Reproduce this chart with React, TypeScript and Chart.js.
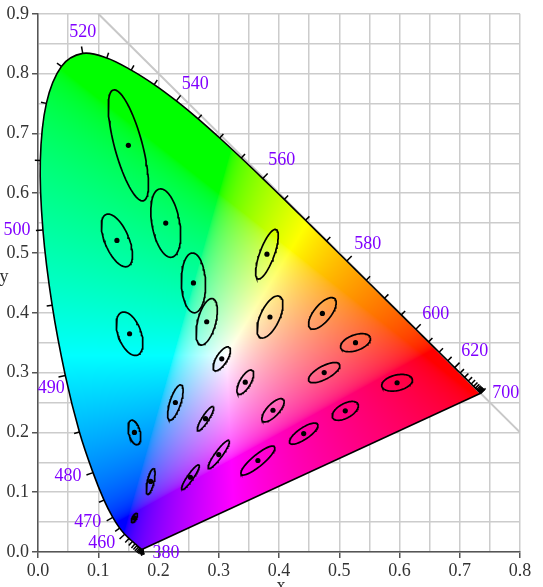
import React, { useEffect, useRef } from 'react';
import { Chart, registerables } from 'chart.js';

Chart.register(...registerables);

// ---- Spectral locus (CIE 1931 2°) ----
const wavelengths = [380,385,390,395,400,405,410,415,420,425,430,435,440,445,450,455,460,465,470,475,480,485,490,495,500,505,510,515,520,525,530,535,540,545,550,555,560,565,570,575,580,585,590,595,600,605,610,615,620,625,630,635,640,645,650,655,660,665,670,675,680,685,690,695,700];
const locusX = [0.17411,0.17401,0.17380,0.17356,0.17334,0.17302,0.17258,0.17209,0.17141,0.17030,0.16888,0.16690,0.16441,0.16110,0.15664,0.15099,0.14396,0.13550,0.12412,0.10959,0.09129,0.06871,0.04539,0.02346,0.00817,0.00386,0.01387,0.03885,0.07430,0.11416,0.15472,0.19288,0.22962,0.26578,0.30160,0.33736,0.37310,0.40874,0.44406,0.47877,0.51249,0.54479,0.57515,0.60293,0.62704,0.64823,0.66576,0.68008,0.69150,0.70061,0.70792,0.71403,0.71903,0.72303,0.72599,0.72827,0.72997,0.73109,0.73199,0.73272,0.73342,0.73405,0.73439,0.73459,0.73469];
const locusY = [0.00496,0.00498,0.00492,0.00492,0.00480,0.00478,0.00480,0.00483,0.00510,0.00579,0.00690,0.00856,0.01086,0.01379,0.01771,0.02274,0.02970,0.03988,0.05780,0.08684,0.13270,0.20072,0.29498,0.41270,0.53842,0.65482,0.75019,0.81202,0.83380,0.82621,0.80586,0.78163,0.75433,0.72432,0.69231,0.65885,0.62445,0.58961,0.55471,0.52020,0.48659,0.45443,0.42423,0.39650,0.37249,0.35139,0.33401,0.31975,0.30834,0.29930,0.29203,0.28593,0.28093,0.27695,0.27401,0.27173,0.27003,0.26891,0.26801,0.26728,0.26658,0.26595,0.26561,0.26541,0.26531];
const labeledWavelengths = [380,460,470,480,490,500,520,540,560,580,600,620,700];

// ---- MacAdam ellipses (semi-axes in units of 1e-3, shown enlarged 10x) ----
const ellipseX = [0.160,0.187,0.253,0.150,0.131,0.212,0.258,0.152,0.280,0.380,0.160,0.228,0.305,0.385,0.472,0.527,0.475,0.510,0.596,0.344,0.390,0.441,0.278,0.300,0.365];
const ellipseY = [0.057,0.118,0.125,0.680,0.521,0.550,0.450,0.365,0.385,0.498,0.200,0.250,0.323,0.393,0.399,0.350,0.300,0.236,0.283,0.284,0.237,0.198,0.223,0.163,0.153];
const ellipseA = [0.85,2.2,2.5,9.6,4.7,5.8,5.0,3.8,4.0,4.4,2.1,3.1,2.3,3.8,3.2,2.6,2.9,2.4,2.6,2.3,2.5,2.8,2.4,2.9,3.6];
const ellipseB = [0.35,0.55,0.50,2.3,2.0,2.3,2.0,1.9,1.5,1.2,0.95,0.9,0.9,1.6,1.4,1.3,1.1,1.2,1.3,0.9,1.0,0.95,0.55,0.6,0.95];
const ellipseTheta = [62.5,77,55.5,105,112.5,100,92,110,75.5,70,104,72,58,65.5,51,20,28.5,29.5,13,60,47,34.5,57.5,54,40];
const ellipseEnlarge = 10;

// ---- Axes ----
const xMin = 0, xMax = 0.8, yMin = 0, yMax = 0.9;
const gridStep = 0.05;
const diagonal = [{ x: 0.1, y: 0.9 }, { x: 0.8, y: 0.2 }];

const FONT = '"Liberation Serif", "Times New Roman", serif';
const LABEL_COLOR = '#8000ff';

// label placement offsets (px) relative to the locus point
const LABEL_OFFSETS: Record<number, [number, number]> = {
  380: [23, 4], 460: [-23, 9], 470: [-25, 5], 480: [-25, 4], 490: [-14, 13],
  500: [-26, 0], 520: [0, -21], 540: [19, -17], 560: [19, -18], 580: [21, -17],
  600: [20, -15], 620: [20, -16], 700: [25, 0],
};

function ellipsePoints(i: number) {
  const pts: { x: number; y: number }[] = [];
  const A = ellipseA[i] * 1e-3 * ellipseEnlarge;
  const B = ellipseB[i] * 1e-3 * ellipseEnlarge;
  const th = (ellipseTheta[i] * Math.PI) / 180;
  const c = Math.cos(th), s = Math.sin(th);
  const n = 72;
  for (let k = 0; k <= n; k++) {
    const t = (2 * Math.PI * k) / n;
    pts.push({
      x: ellipseX[i] + A * c * Math.cos(t) - B * s * Math.sin(t),
      y: ellipseY[i] + A * s * Math.cos(t) + B * c * Math.sin(t),
    });
  }
  return pts;
}

function gammaEnc(v: number) {
  return v <= 0.0031308 ? 12.92 * v : 1.055 * Math.pow(v, 1 / 2.4) - 0.055;
}

function xyToRgb(x: number, y: number): [number, number, number] {
  const yy = Math.max(y, 1e-4);
  const X = x / yy, Y = 1, Z = (1 - x - y) / yy;
  let r = 3.2406 * X - 1.5372 * Y - 0.4986 * Z;
  let g = -0.9689 * X + 1.8758 * Y + 0.0415 * Z;
  let b = 0.0557 * X - 0.204 * Y + 1.057 * Z;
  r = Math.max(0, r); g = Math.max(0, g); b = Math.max(0, b);
  const m = Math.max(r, g, b, 1e-9);
  r /= m; g /= m; b /= m;
  return [gammaEnc(r) * 255, gammaEnc(g) * 255, gammaEnc(b) * 255];
}

const gamutPlugin = {
  id: 'gamutFill',
  beforeDatasetsDraw(chart: any) {
    const { ctx, chartArea } = chart;
    const xs = chart.scales.x, ys = chart.scales.y;
    const left = Math.floor(chartArea.left), top = Math.floor(chartArea.top);
    const w = Math.ceil(chartArea.right) - left, h = Math.ceil(chartArea.bottom) - top;
    const off = document.createElement('canvas');
    off.width = w; off.height = h;
    const octx = off.getContext('2d')!;
    const img = octx.createImageData(w, h);
    const d = img.data;
    for (let j = 0; j < h; j++) {
      const yv = ys.getValueForPixel(top + j + 0.5);
      for (let i = 0; i < w; i++) {
        const xv = xs.getValueForPixel(left + i + 0.5);
        const [r, g, b] = xyToRgb(xv, yv);
        const o = (j * w + i) * 4;
        d[o] = r; d[o + 1] = g; d[o + 2] = b; d[o + 3] = 255;
      }
    }
    octx.putImageData(img, 0, 0);
    const meta = chart.getDatasetMeta(0);
    const line = meta.dataset;
    ctx.save();
    ctx.beginPath();
    if (line && typeof line.path === 'function') {
      if (typeof line.updateControlPoints === 'function') line.updateControlPoints(chartArea, 'x');
      line.path(ctx);
    } else {
      meta.data.forEach((p: any, k: number) => (k ? ctx.lineTo(p.x, p.y) : ctx.moveTo(p.x, p.y)));
    }
    ctx.closePath();
    ctx.clip();
    ctx.drawImage(off, left, top);
    ctx.restore();
  },
};

const locusTicksPlugin = {
  id: 'locusTicks',
  afterDatasetsDraw(chart: any) {
    const { ctx } = chart;
    const xs = chart.scales.x, ys = chart.scales.y;
    const px = locusX.map((v) => xs.getPixelForValue(v));
    const py = locusY.map((v) => ys.getPixelForValue(v));
    const wx = xs.getPixelForValue(0.333), wy = ys.getPixelForValue(0.333);
    const n = wavelengths.length;
    ctx.save();
    ctx.strokeStyle = '#000';
    ctx.lineWidth = 1.5;
    for (let i = 0; i < n; i++) {
      const a = Math.max(0, i - 1), b = Math.min(n - 1, i + 1);
      let tx = px[b] - px[a], ty = py[b] - py[a];
      const tl = Math.hypot(tx, ty) || 1;
      tx /= tl; ty /= tl;
      let nx = ty, ny = -tx;
      if (nx * (px[i] - wx) + ny * (py[i] - wy) < 0) { nx = -nx; ny = -ny; }
      const len = labeledWavelengths.includes(wavelengths[i]) ? 7 : 5.5;
      ctx.beginPath();
      ctx.moveTo(px[i], py[i]);
      ctx.lineTo(px[i] + nx * len, py[i] + ny * len);
      ctx.stroke();
    }
    ctx.fillStyle = LABEL_COLOR;
    ctx.font = `18px ${FONT}`;
    ctx.textAlign = 'center';
    ctx.textBaseline = 'middle';
    labeledWavelengths.forEach((wl) => {
      const i = wavelengths.indexOf(wl);
      const off = LABEL_OFFSETS[wl] || [0, 0];
      ctx.fillText(String(wl), px[i] + off[0], py[i] + off[1]);
    });
    ctx.restore();
  },
};

const axisTitlePlugin = {
  id: 'axisTitles',
  afterDraw(chart: any) {
    const { ctx, chartArea } = chart;
    ctx.save();
    ctx.fillStyle = '#333';
    ctx.font = `18px ${FONT}`;
    ctx.textAlign = 'center';
    ctx.textBaseline = 'alphabetic';
    ctx.fillText('x', (chartArea.left + chartArea.right) / 2 + 2, chartArea.bottom + 39);
    ctx.fillText('y', 4, (chartArea.top + chartArea.bottom) / 2 - 1);
    ctx.restore();
  },
};

const isMajor = (v: number) => Math.abs(v * 10 - Math.round(v * 10)) < 1e-6;

export default function App() {
  const ref = useRef<HTMLCanvasElement | null>(null);
  useEffect(() => {
    if (!ref.current) return;
    const datasets: any[] = [];
    datasets.push({
      label: 'locus',
      data: wavelengths.map((_, i) => ({ x: locusX[i], y: locusY[i] })),
      showLine: true,
      borderColor: '#000',
      borderWidth: 1.6,
      pointRadius: 0,
      tension: 0.35,
      fill: false,
      order: 1,
    });
    datasets.push({
      label: 'purples',
      data: [
        { x: locusX[0], y: locusY[0] },
        { x: locusX[locusX.length - 1], y: locusY[locusY.length - 1] },
      ],
      showLine: true,
      borderColor: '#000',
      borderWidth: 1.6,
      pointRadius: 0,
      fill: false,
      order: 1,
    });
    datasets.push({
      label: 'diagonal',
      data: diagonal,
      showLine: true,
      borderColor: '#c8c8c8',
      borderWidth: 2,
      pointRadius: 0,
      fill: false,
      order: 10,
    });
    ellipseX.forEach((_, i) => {
      datasets.push({
        label: 'ellipse' + i,
        data: ellipsePoints(i),
        showLine: true,
        borderColor: '#000',
        borderWidth: 1.7,
        pointRadius: 0,
        tension: 0,
        fill: false,
        order: 0,
      });
    });
    datasets.push({
      label: 'centers',
      data: ellipseX.map((x, i) => ({ x, y: ellipseY[i] })),
      showLine: false,
      pointRadius: 2.6,
      pointBackgroundColor: '#000',
      pointBorderWidth: 0,
      order: 0,
    });

    const gridCommon = {
      color: '#cccccc',
      lineWidth: 1.5,
      drawTicks: true,
      tickLength: 6,
      tickWidth: 1.5,
      tickColor: (c: any) => (c.tick && isMajor(c.tick.value) ? '#555' : 'rgba(0,0,0,0)'),
    };
    const tickFont = { family: FONT, size: 18 };

    const chart = new Chart(ref.current, {
      type: 'scatter',
      data: { datasets },
      options: {
        responsive: false,
        animation: false,
        events: [],
        layout: { padding: { top: 9, right: 23, left: 0, bottom: 0 } },
        plugins: { legend: { display: false }, tooltip: { enabled: false } },
        scales: {
          x: {
            type: 'linear',
            min: xMin,
            max: xMax,
            grid: gridCommon as any,
            border: { display: true, color: '#555', width: 1.5 },
            ticks: {
              stepSize: gridStep,
              autoSkip: false,
              maxRotation: 0,
              padding: 2,
              color: '#333',
              font: tickFont,
              callback: (v: any) => (isMajor(Number(v)) ? Number(v).toFixed(1) : ''),
            },
            afterFit: (s: any) => { s.height = 35; },
          },
          y: {
            type: 'linear',
            min: yMin,
            max: yMax,
            grid: gridCommon as any,
            border: { display: true, color: '#555', width: 1.5 },
            ticks: {
              stepSize: gridStep,
              autoSkip: false,
              padding: 3,
              color: '#333',
              font: tickFont,
              callback: (v: any) => (isMajor(Number(v)) ? Number(v).toFixed(1) : ''),
            },
            afterFit: (s: any) => { s.width = 38; },
          },
        },
      },
      plugins: [gamutPlugin, locusTicksPlugin, axisTitlePlugin],
    });
    return () => chart.destroy();
  }, []);

  return (
    <div style={{ position: 'fixed', left: 0, top: 0, width: 543, height: 587, background: '#fff' }}>
      <canvas ref={ref} width={543} height={587} style={{ display: 'block' }} />
    </div>
  );
}
